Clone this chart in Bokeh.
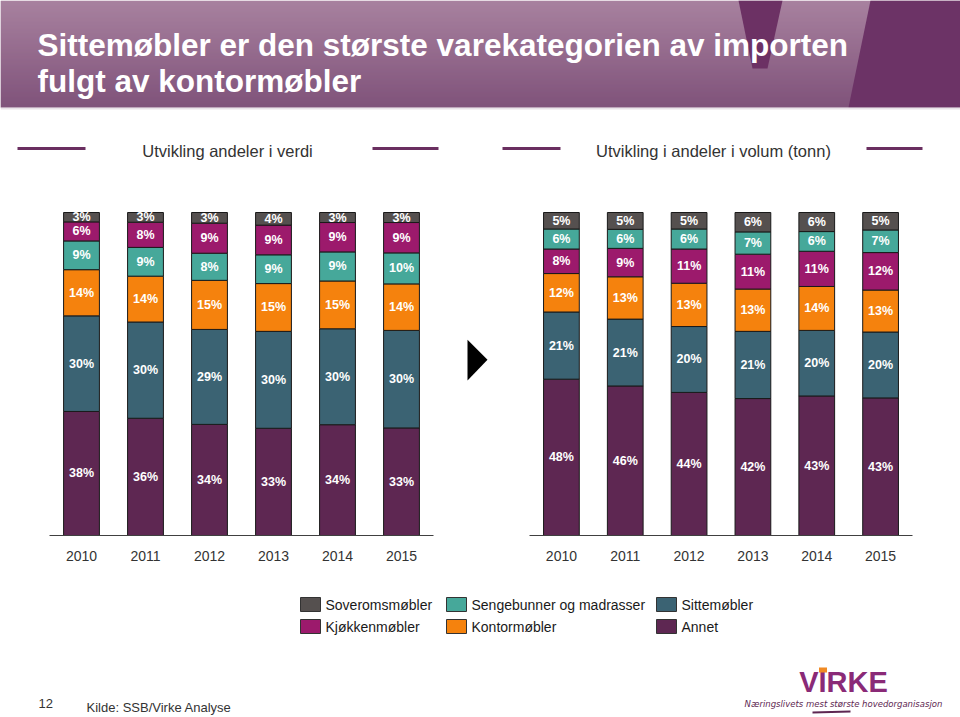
from bokeh.plotting import figure
from bokeh.layouts import column, row
from bokeh.models import Range1d, FactorRange, ColumnDataSource
from bokeh.core.properties import value
from bokeh.embed import file_html
from bokeh.resources import INLINE

# ---------------- data ----------------
years = ["2010", "2011", "2012", "2013", "2014", "2015"]

series_names = ["Soveromsmøbler", "Sengebunner og madrasser", "Sittemøbler",
                "Kjøkkenmøbler", "Kontormøbler", "Annet"]

# Andeler i verdi (percent)
verdi_annet   = [38.4, 36.3, 34.4, 33.2, 34.3, 33.3]
verdi_sitte   = [29.6, 29.8, 29.4, 30.0, 29.7, 30.2]
verdi_kontor  = [14.3, 14.2, 15.2, 14.8, 14.8, 14.4]
verdi_seng    = [8.9, 8.9, 8.4, 8.9, 9.0, 9.6]
verdi_kjokken = [5.9, 7.8, 9.3, 9.2, 9.1, 9.4]
verdi_soverom = [2.9, 3.0, 3.3, 3.9, 3.1, 3.1]

# Andeler i volum (tonn) (percent)
volum_annet   = [48.4, 46.3, 44.3, 42.4, 43.2, 42.6]
volum_sitte   = [20.8, 20.7, 20.4, 20.8, 20.3, 20.4]
volum_kontor  = [11.9, 13.1, 13.4, 13.1, 13.6, 13.0]
volum_kjokken = [7.6, 8.8, 10.6, 10.8, 10.9, 11.6]
volum_seng    = [6.2, 5.9, 6.2, 6.9, 6.1, 7.0]
volum_soverom = [5.1, 5.2, 5.1, 6.0, 5.9, 5.4]

colors = {
    "Soveromsmøbler": "#55504f",
    "Sengebunner og madrasser": "#46a89a",
    "Sittemøbler": "#3b6373",
    "Kjøkkenmøbler": "#9c1a6c",
    "Kontormøbler": "#f5820d",
    "Annet": "#5e2752",
}

FONT = "Liberation Sans"


def base_fig(w, h, xr, yr):
    p = figure(width=w, height=h, x_range=xr, y_range=yr,
               output_backend="svg", toolbar_location=None,
               x_axis_location=None, y_axis_location=None,
               min_border=0, outline_line_color=None)
    p.grid.visible = False
    p.background_fill_color = "white"
    p.border_fill_color = "white"
    return p


# ---------------- header ----------------
hdr = base_fig(960, 190, Range1d(0, 960), Range1d(190, 0))
top_rgb = (155, 112, 145)
bot_rgb = (110, 58, 104)
n = 107
g_top, g_bot, g_col = [], [], []
for i in range(n):
    t = i / (n - 1)
    c = tuple(int(round(top_rgb[k] + (bot_rgb[k] - top_rgb[k]) * t)) for k in range(3))
    g_top.append(i)
    g_bot.append(i + 1.2)
    g_col.append("#%02x%02x%02x" % c)
hdr.quad(left=0, right=960, top=g_top, bottom=g_bot, fill_color=g_col, line_color=None)
hdr.patch([870, 960, 960, 848], [0, 0, 107, 107], fill_color="#6c3366", line_color=None)
hdr.patch([738, 782, 767, 752], [0, 0, 68, 68], fill_color="#6c3164", line_color=None)
hdr.quad(left=0, right=960, top=107, bottom=109, fill_color="#e9e2e8", line_color=None)

hdr.text(x=[37, 37], y=[44, 80],
         text=["Sittemøbler er den største varekategorien av importen",
               "fulgt av kontormøbler"],
         text_font=value(FONT), text_font_style="bold", text_font_size="31.5px",
         text_color="white", text_baseline="middle", text_align="left")

hdr.text(x=[227, 713], y=[150, 150],
         text=["Utvikling andeler i verdi", "Utvikling i andeler i volum (tonn)"],
         text_font=value(FONT), text_font_size="16.5px",
         text_color="#333333", text_baseline="middle", text_align="center")
hdr.segment(x0=[17, 372, 502, 866], x1=[85, 438, 560, 922],
            y0=[148] * 4, y1=[148] * 4, line_color="#6a2f60", line_width=3)


# ---------------- charts ----------------
def chart(order, data, w, bl, br):
    p = figure(width=w, height=385, x_range=FactorRange(*years),
               y_range=Range1d(0, 103.72), output_backend="svg",
               toolbar_location=None, y_axis_location=None,
               min_border_left=bl, min_border_right=br,
               min_border_top=10, min_border_bottom=40,
               outline_line_color=None)
    p.x_range.range_padding = 0
    p.grid.visible = False
    src = ColumnDataSource(dict(years=years, **{k: data[k] for k in order}))
    p.vbar_stack(order, x="years", width=0.56, source=src,
                 color=[colors[k] for k in order],
                 line_color="#1a1a1a", line_width=1)
    # labels
    lx, ly, lt = [], [], []
    for i, yr in enumerate(years):
        cum = 0.0
        for k in order:
            v = data[k][i]
            lx.append(yr)
            ly.append(cum + v / 2)
            lt.append("%d%%" % int(v + 0.5))
            cum += v
    p.text(x=lx, y=ly, text=lt, text_font=value(FONT), text_font_style="bold",
           text_font_size="12.5px", text_color="white",
           text_align="center", text_baseline="middle")
    ax = p.xaxis[0]
    ax.axis_line_color = "#404040"
    ax.axis_line_width = 1
    ax.major_tick_line_color = None
    ax.minor_tick_line_color = None
    ax.major_label_standoff = 9
    ax.major_label_text_font = FONT
    ax.major_label_text_font_size = "14px"
    ax.major_label_text_color = "#333333"
    return p


left_order = ["Annet", "Sittemøbler", "Kontormøbler", "Sengebunner og madrasser",
              "Kjøkkenmøbler", "Soveromsmøbler"]
right_order = ["Annet", "Sittemøbler", "Kontormøbler", "Kjøkkenmøbler",
               "Sengebunner og madrasser", "Soveromsmøbler"]

verdi = {"Annet": verdi_annet, "Sittemøbler": verdi_sitte, "Kontormøbler": verdi_kontor,
         "Sengebunner og madrasser": verdi_seng, "Kjøkkenmøbler": verdi_kjokken,
         "Soveromsmøbler": verdi_soverom}
volum = {"Annet": volum_annet, "Sittemøbler": volum_sitte, "Kontormøbler": volum_kontor,
         "Sengebunner og madrasser": volum_seng, "Kjøkkenmøbler": volum_kjokken,
         "Soveromsmøbler": volum_soverom}

pl = chart(left_order, verdi, 440, 49, 7)
pr = chart(right_order, volum, 440, 9, 48)

arrow = base_fig(80, 385, Range1d(440, 520), Range1d(575, 190))
arrow.patch([467, 487, 467], [350, 373, 397], fill_color="black", line_color=None)

# ---------------- footer ----------------
ftr = base_fig(960, 142, Range1d(0, 960), Range1d(717, 575))
leg_order = ["Soveromsmøbler", "Sengebunner og madrasser", "Sittemøbler",
             "Kjøkkenmøbler", "Kontormøbler", "Annet"]
col_x = [300, 446, 656]
row_y = [604, 626]
sq_l, sq_r, sq_t, sq_b, sq_c, tx, ty = [], [], [], [], [], [], []
for i, name in enumerate(leg_order):
    cx = col_x[i % 3]
    cy = row_y[i // 3]
    sq_l.append(cx)
    sq_r.append(cx + 20)
    sq_t.append(cy - 7)
    sq_b.append(cy + 7)
    sq_c.append(colors[name])
    tx.append(cx + 25)
    ty.append(cy)
ftr.quad(left=sq_l, right=sq_r, top=sq_t, bottom=sq_b, fill_color=sq_c,
         line_color="#333333", line_width=1)
ftr.text(x=tx, y=ty, text=leg_order, text_font=value(FONT), text_font_size="14px",
         text_color="#1a1a1a", text_baseline="middle", text_align="left")

ftr.text(x=[38], y=[703], text=["12"], text_font=value(FONT), text_font_size="13px",
         text_color="#333333", text_baseline="middle")
ftr.text(x=[86], y=[707], text=["Kilde: SSB/Virke Analyse"], text_font=value(FONT),
         text_font_size="13px", text_color="#333333", text_baseline="middle")

# logo
ftr.text(x=[843], y=[681], text=["VIRKE"], text_font=value(FONT), text_font_style="bold",
         text_font_size="29px", text_color="#8a2a77", text_align="center",
         text_baseline="middle")
ftr.quad(left=[818.5], right=[826.5], top=[667], bottom=[672], fill_color="#f08a24",
         line_color=None)
ftr.text(x=[843], y=[703], text=["Næringslivets mest største hovedorganisasjon"],
         text_font=value("DejaVu Sans"), text_font_style="italic",
         text_font_size="8.5px", text_color="#5e2752", text_align="center",
         text_baseline="middle")
ftr.segment(x0=[812], x1=[850], y0=[712], y1=[711], line_color="#5e2752", line_width=2)

layout = column(hdr, row(pl, arrow, pr), ftr)
open("out.html", "w").write(file_html(layout, INLINE))
